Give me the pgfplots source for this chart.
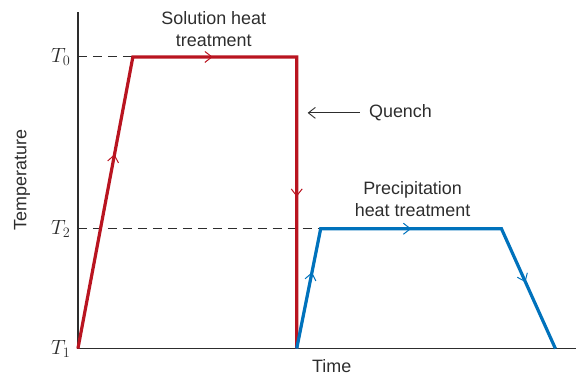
\documentclass[border=0pt]{standalone}
\usepackage{pgfplots}
\pgfplotsset{compat=1.18}
\usepackage{fontspec}
\setmainfont{Liberation Sans}
\usetikzlibrary{decorations.markings,arrows.meta}

\definecolor{heatred}{RGB}{185,20,32}
\definecolor{heatblue}{RGB}{0,114,188}
\definecolor{axisgray}{RGB}{45,45,45}

% open chevron used along the curves
\tikzset{chev/.tip={Straight Barb[length=7bp,width=11bp,line width=1bp]}}

\begin{document}
\begin{tikzpicture}
  \begin{axis}[
    name=ax,
    scale only axis,
    width=499bp, height=337bp,
    xmin=0, xmax=499, ymin=0, ymax=337,
    axis lines=left,
    axis line style={-, line width=1.2bp, draw=axisgray},
    xtick=\empty,
    ytick={0,120,292},
    yticklabels={$T_1$,$T_2$,$T_0$},
    major tick length=0pt,
    tick label style={font=\fontsize{20}{24}\selectfont, text=axisgray},
    yticklabel style={xshift=-4bp},
    xlabel={Time}, ylabel={Temperature},
    label style={font=\fontsize{18}{22}\selectfont, text=axisgray},
    xlabel style={at={(axis description cs:0.509,0)}, anchor=north, yshift=-7bp},
    ylabel style={at={(axis description cs:-0.112,0.5)}, anchor=center},
    clip=false,
  ]
    % guide lines
    \addplot[axisgray, line width=1bp, dash pattern=on 9bp off 6bp] coordinates {(0,292)(55,292)};
    \addplot[axisgray, line width=1bp, dash pattern=on 9bp off 6bp] coordinates {(0,120)(243,120)};

    % solution heat treatment + quench
    \addplot[heatred, line width=3.2bp, line join=miter,
      postaction={decorate},
      decoration={markings,
        mark=at position 198bp with {\arrow{chev}},
        mark=at position 377bp with {\arrow{chev}},
        mark=at position 601bp with {\arrow{chev}}}]
      coordinates {(0,0)(55,292)(219,292)(219,0)};

    % precipitation heat treatment
    \addplot[heatblue, line width=3.2bp, line join=miter,
      postaction={decorate},
      decoration={markings,
        mark=at position 78bp with {\arrow{chev}},
        mark=at position 213bp with {\arrow{chev}},
        mark=at position 362bp with {\arrow{chev}}}]
      coordinates {(219,0)(243,120)(424,120)(478,0)};

    \node[align=center, font=\fontsize{18}{22}\selectfont, text=axisgray] at (axis cs:136,320) {Solution heat\\treatment};
    \node[align=center, font=\fontsize{18}{22}\selectfont, text=axisgray] at (axis cs:335,150) {Precipitation\\heat treatment};
    \node[anchor=west, font=\fontsize{18}{22}\selectfont, text=axisgray] at (axis cs:288,236) {Quench};
    \draw[axisgray, line width=0.9bp, -{Straight Barb[length=7bp,width=11bp]}] (axis cs:282,236) -- (axis cs:230,236);
  \end{axis}
  \path (ax.south west) ++(-78bp,-24bp) rectangle ++(577bp,373bp);
\end{tikzpicture}
\end{document}
